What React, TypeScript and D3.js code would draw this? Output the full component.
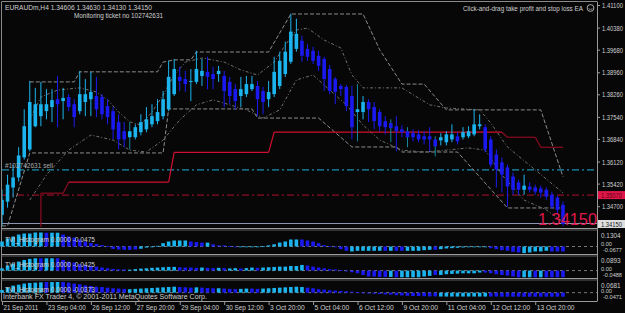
import React from "react";
import * as d3 from "d3";

// ---------- DATA ----------
const opens = [1.3444,1.3486,1.3531,1.3563,1.3627,1.3652,1.3726,1.3758,1.3774,1.3787,
1.3812,1.3806,1.3819,1.3796,1.3774,1.3803,1.3812,1.3822,1.3819,1.3790,
1.3774,1.3739,1.3710,1.3691,1.3691,1.3707,1.3716,1.3732,1.3742,1.3758,
1.3780,1.3828,1.3883,1.3876,1.3867,1.3867,1.3886,1.3899,1.3892,1.3892,
1.3886,1.3867,1.3844,1.3822,1.3828,1.3844,1.3854,1.3838,1.3812,1.3828,
1.3854,1.3892,1.3931,1.3972,1.3998,1.3972,1.3966,1.3950,1.3940,1.3908,
1.3876,1.3854,1.3851,1.3822,1.3771,1.3771,1.3803,1.3787,1.3771,1.3742,
1.3736,1.3726,1.3716,1.3710,1.3704,1.3700,1.3694,1.3694,1.3684,1.3681,
1.3675,1.3684,1.3694,1.3691,1.3694,1.3700,1.3726,1.3723,1.3684,1.3636,
1.3611,1.3595,1.3566,1.3547,1.3524,1.3534,1.3531,1.3528,1.3524,1.3508,
1.3499,1.3476];
const highs = [1.3524,1.3572,1.3604,1.3659,1.3780,1.3870,1.3848,1.3867,1.3844,1.3844,
1.3886,1.3848,1.3828,1.3812,1.3902,1.3876,1.3899,1.3883,1.3828,1.3812,
1.3787,1.3764,1.3739,1.3739,1.3732,1.3764,1.3787,1.3796,1.3812,1.3838,
1.3934,1.3940,1.3915,1.3902,1.3908,1.3966,1.3940,1.3947,1.3915,1.3918,
1.3902,1.3883,1.3860,1.3883,1.3886,1.3886,1.3870,1.3851,1.3870,1.3947,
1.3963,1.3995,1.4084,1.4068,1.4014,1.3988,1.3979,1.3966,1.3947,1.3921,
1.3883,1.3860,1.3857,1.3854,1.3860,1.3822,1.3812,1.3803,1.3780,1.3758,
1.3748,1.3758,1.3729,1.3723,1.3716,1.3713,1.3710,1.3723,1.3694,1.3704,
1.3710,1.3732,1.3707,1.3723,1.3726,1.3780,1.3764,1.3732,1.3694,1.3652,
1.3627,1.3604,1.3579,1.3556,1.3572,1.3547,1.3540,1.3537,1.3531,1.3518,
1.3505,1.3486];
const lows = [1.3409,1.3467,1.3499,1.3550,1.3620,1.3646,1.3723,1.3726,1.3748,1.3739,
1.3723,1.3748,1.3774,1.3723,1.3764,1.3758,1.3758,1.3755,1.3748,1.3732,
1.3684,1.3652,1.3659,1.3652,1.3684,1.3697,1.3707,1.3723,1.3732,1.3748,
1.3774,1.3822,1.3838,1.3835,1.3806,1.3860,1.3854,1.3844,1.3844,1.3867,
1.3787,1.3796,1.3780,1.3787,1.3819,1.3838,1.3758,1.3764,1.3787,1.3819,
1.3844,1.3883,1.3924,1.3963,1.3931,1.3934,1.3924,1.3902,1.3838,1.3828,
1.3796,1.3822,1.3774,1.3684,1.3678,1.3748,1.3739,1.3716,1.3710,1.3700,
1.3675,1.3646,1.3691,1.3659,1.3678,1.3675,1.3668,1.3646,1.3630,1.3665,
1.3665,1.3675,1.3668,1.3684,1.3688,1.3694,1.3716,1.3643,1.3595,1.3531,
1.3515,1.3470,1.3508,1.3508,1.3508,1.3515,1.3508,1.3499,1.3492,1.3464,
1.3448,1.3409];
const closes = [1.3492,1.3540,1.3563,1.3633,1.3726,1.3803,1.3796,1.3796,1.3796,1.3809,
1.3796,1.3816,1.3787,1.3755,1.3828,1.3828,1.3835,1.3780,1.3764,1.3755,
1.3716,1.3684,1.3684,1.3710,1.3723,1.3739,1.3748,1.3758,1.3771,1.3812,
1.3883,1.3908,1.3870,1.3860,1.3870,1.3908,1.3902,1.3883,1.3876,1.3902,
1.3838,1.3822,1.3806,1.3844,1.3860,1.3860,1.3812,1.3803,1.3835,1.3899,
1.3934,1.3963,1.4027,1.4020,1.3950,1.3947,1.3934,1.3918,1.3876,1.3838,
1.3835,1.3844,1.3790,1.3723,1.3780,1.3803,1.3780,1.3742,1.3726,1.3723,
1.3720,1.3710,1.3707,1.3691,1.3691,1.3684,1.3684,1.3684,1.3662,1.3691,
1.3700,1.3700,1.3678,1.3707,1.3710,1.3732,1.3732,1.3652,1.3604,1.3588,
1.3572,1.3534,1.3524,1.3524,1.3537,1.3524,1.3518,1.3515,1.3502,1.3470,
1.3460,1.3415];
const tealWicks = [23, 64, 70, 73, 78];

const priceTicks = [1.411, 1.4038, 1.3968, 1.3896, 1.3826, 1.3754, 1.3684, 1.3612, 1.3542, 1.347];
const timeLabels = ["21 Sep 2011","23 Sep 04:00","26 Sep 12:00","27 Sep 20:00","29 Sep 04:00","30 Sep 12:00","3 Oct 20:00","5 Oct 04:00","6 Oct 12:00","9 Oct 20:00","11 Oct 04:00","12 Oct 12:00","13 Oct 20:00"];
const timeLabelBars = [0,8,16,24,32,40,48,56,64,72,80,88,96];

// channel lines (bar index, price)
const upperStepIdx = [5,13,14,28,29,31,34,35,48,52,65,68,72,76,80,97,101];
const upperStepVal = [1.3867,1.3867,1.3899,1.3899,1.3930,1.3937,1.3937,1.3962,1.3962,1.4083,1.4083,1.3969,1.3860,1.3860,1.3778,1.3778,1.3565];
const lowerStepIdx = [0,1,5,29,30,45,46,57,63,71,72,82,91,101];
const lowerStepVal = [1.3409,1.3409,1.3641,1.3641,1.3781,1.3781,1.3752,1.3752,1.3660,1.3660,1.3644,1.3644,1.3466,1.3466];
const upperBandIdx = [5,7,10,14,17,19,21,23,25,27,29,31,33,36,40,43,46,49,51,53,55,58,61,63,65,72,77,80,86,88,91,96,101];
const upperBandVal = [1.3746,1.3819,1.3841,1.3848,1.3835,1.3810,1.3771,1.3740,1.3730,1.3771,1.3825,1.3889,1.3930,1.3943,1.3930,1.3905,1.3889,1.3930,1.3984,1.4032,1.4038,1.4000,1.3975,1.3889,1.3848,1.3848,1.3794,1.3784,1.3778,1.3736,1.3660,1.3587,1.3514];
const lowerBandIdx = [5,8,12,16,20,23,26,29,32,35,38,41,44,47,50,53,56,59,62,65,68,72,76,80,84,87,90,94,98,101];
const lowerBandVal = [1.3491,1.3571,1.3650,1.3698,1.3682,1.3650,1.3644,1.3682,1.3746,1.3794,1.3810,1.3794,1.3778,1.3752,1.3778,1.3873,1.3889,1.3841,1.3794,1.3730,1.3682,1.3650,1.3644,1.3650,1.3657,1.3650,1.3571,1.3491,1.3460,1.3422];

// trailing stop (red step line)
const stopIdx = [7,7,11,12,30,31,48,49,90,91,96,97,101];
const stopVal = [1.3405,1.3513,1.3513,1.3548,1.3548,1.3643,1.3643,1.3707,1.3707,1.3691,1.3691,1.3659,1.3659];

const sellLevel = 1.3587;
const stopLevel = 1.3507;
const bidPrice = 1.3415;

// TVI histograms
const tvi1 = [0.045,0.072,0.09,0.108,0.117,0.117,0.126,0.126,0.124,0.124,
0.124,0.108,0.09,0.08,0.063,0.045,0.032,0.022,0.013,0.003,
-0.022,-0.027,-0.03,-0.03,-0.027,-0.02,-0.01,-0.005,0.006,0.03,
0.045,0.054,0.054,0.054,0.045,0.04,0.035,0.035,0.02,0.01,
0.01,0.003,-0.005,-0.006,-0.004,-0.003,-0.002,0.002,0.01,0.02,
0.035,0.045,0.063,0.063,0.063,0.054,0.045,0.03,0.012,0.004,
0.0,-0.024,-0.039,-0.045,-0.039,-0.039,-0.039,-0.039,-0.039,-0.039,
-0.039,-0.039,-0.039,-0.039,-0.039,-0.039,-0.033,-0.03,-0.03,-0.024,
-0.018,-0.015,-0.012,-0.009,-0.006,-0.003,0.0,-0.003,-0.015,-0.024,
-0.033,-0.039,-0.048,-0.054,-0.06,-0.054,-0.045,-0.045,-0.039,-0.045,-0.045,-0.045];
const tvi1Col = "LLLLLLLLBL" + "LBBBBBBBBB" + "BBBBBLLLLL" + "LLLLBBBLBB" + "BBBLLLLLLL" + "LLLLBBBBBB" + "BBBLLLLLLB" + "LBBLLLLLBL" + "LLLLLLLLBB" + "BBBBLLLLLBBB";
const tvi2 = [0.015,0.033,0.046,0.059,0.07,0.077,0.081,0.081,0.081,0.081,
0.081,0.07,0.059,0.053,0.042,0.037,0.031,0.026,0.02,0.015,
0.011,0.008,0.008,0.006,0.01,0.013,0.015,0.018,0.02,0.022,
0.024,0.024,0.022,0.02,0.02,0.018,0.02,0.018,0.016,0.018,
0.016,0.014,0.016,0.014,0.016,0.02,0.018,0.02,0.022,0.024,
0.026,0.026,0.03,0.03,0.037,0.033,0.026,0.02,0.015,0.01,
0.008,0.004,-0.002,-0.011,-0.018,-0.029,-0.039,-0.039,-0.042,-0.042,
-0.042,-0.044,-0.044,-0.044,-0.044,-0.044,-0.039,-0.035,-0.029,-0.029,
-0.024,-0.022,-0.02,-0.018,-0.018,-0.018,-0.013,-0.013,-0.018,-0.024,
-0.029,-0.033,-0.039,-0.044,-0.044,-0.044,-0.044,-0.044,-0.044,-0.044,-0.044,-0.044];
const tvi2Col = "LLLLLLLBLL" + "BBBBBBBBBB" + "BBBLLLLLLL" + "LLBBBBLBBL" + "BLLBLLBLLL" + "LLLLLBBBBB" + "BBBBBBBBBB" + "LBLLLLLLBL" + "LLLLLLLBBB" + "BBBBLLBLBBBB";
const tvi3 = [0.017,0.032,0.045,0.051,0.058,0.062,0.064,0.066,0.068,0.068,
0.068,0.068,0.064,0.058,0.054,0.047,0.043,0.038,0.036,0.032,
0.028,0.026,0.024,0.022,0.024,0.026,0.028,0.03,0.032,0.034,
0.036,0.038,0.036,0.034,0.032,0.034,0.032,0.03,0.028,0.028,
0.026,0.024,0.022,0.024,0.026,0.026,0.024,0.026,0.028,0.03,
0.032,0.034,0.036,0.038,0.036,0.032,0.028,0.022,0.019,0.015,
0.013,0.011,0.009,0.006,0.004,0.001,-0.004,-0.007,-0.009,-0.011,
-0.013,-0.016,-0.018,-0.02,-0.022,-0.022,-0.023,-0.024,-0.024,-0.025,
-0.025,-0.025,-0.025,-0.025,-0.025,-0.025,-0.025,-0.025,-0.025,-0.025,
-0.026,-0.026,-0.026,-0.026,-0.026,-0.026,-0.026,-0.026,-0.026,-0.026,-0.026,-0.026];
const tvi3Col = "LLLLLLLLBL" + "LBBBBBBBBB" + "BBBLLLLLLL" + "LLBBBLBBBL" + "BBBLLBBLLL" + "LLLLLBBBBB" + "BBBBBBBBBB" + "BBBBBBBBBL" + "LLLLLLLLBB" + "BBBBBBBBBBBB";

const tviLabels = ["TVI_Histogram 0.0000 -0.0475", "TVI_Histogram 0.0000 -0.0425", "TVI_Histogram 0.0000 -0.0373"];
const tviMax = [0.1304, 0.0893, 0.0681];
const tviMin = [-0.0677, -0.0488, -0.0471];

// ---------- STYLE ----------
const BULL = "#1cb4ee";
const BEAR = "#1a1af0";
const TEAL = "#13889a";
const TXT = "#cfcfcf";
const FONT = "'Liberation Sans', Arial, sans-serif";

export default function App() {
  const x = d3.scaleLinear().domain([0, 101]).range([2, 563]);
  const y = d3.scaleLinear().domain([bidPrice, 1.411]).range([224, 5.5]);

  const line = d3.line<[number, number]>().x(d => x(d[0])).y(d => y(d[1]));
  const mk = (idx: number[], val: number[]) => line(idx.map((v, k) => [v, val[k]]) as [number, number][]) || "";

  const panes = [
    { data: tvi1, col: tvi1Col, top: 232, bot: 254 },
    { data: tvi2, col: tvi2Col, top: 257, bot: 278 },
    { data: tvi3, col: tvi3Col, top: 282, bot: 300 },
  ];

  const stopSegs: { a: number; b: number; c: string }[] = [];
  for (let k = 0; k < stopIdx.length - 1; k++) {
    const a = stopIdx[k];
    const dark = a < 12 || a >= 90;
    stopSegs.push({ a: k, b: k + 1, c: dark ? "#8e0c22" : "#d0102e" });
  }

  return (
    <svg width={625} height={313} style={{ position: "absolute", left: 0, top: 0, background: "#070707" }}
      fontFamily={FONT}>
      <defs>
        <clipPath id="main"><rect x={2} y={2} width={595} height={225} /></clipPath>
      </defs>
      <rect x={0} y={0} width={625} height={313} fill="#070707" />

      <g clipPath="url(#main)">
        {/* horizontal levels */}
        <line x1={2} x2={597} y1={y(sellLevel)} y2={y(sellLevel)} stroke="#1b8fae" strokeWidth={1.2} strokeDasharray="7,3,2,3" />
        <line x1={2} x2={597} y1={y(stopLevel)} y2={y(stopLevel)} stroke="#b0102e" strokeWidth={1} strokeDasharray="7,3,2,3" />
        <line x1={2} x2={597} y1={y(bidPrice) - 0.5} y2={y(bidPrice) - 0.5} stroke="#8b95b3" strokeWidth={1} />

        {/* channel lines */}
        <path d={mk(upperStepIdx, upperStepVal)} fill="none" stroke="#8c8c8c" strokeWidth={1} strokeDasharray="4,2" />
        <path d={mk(lowerStepIdx, lowerStepVal)} fill="none" stroke="#8c8c8c" strokeWidth={1} strokeDasharray="4,2" />
        <path d={mk(upperBandIdx, upperBandVal)} fill="none" stroke="#707070" strokeWidth={1} strokeDasharray="3,2,1,2" />
        <path d={mk(lowerBandIdx, lowerBandVal)} fill="none" stroke="#707070" strokeWidth={1} strokeDasharray="3,2,1,2" />

        {/* red trailing stop */}
        {stopSegs.map((s, k) => (
          <line key={k} x1={x(stopIdx[s.a])} y1={y(stopVal[s.a])} x2={x(stopIdx[s.b])} y2={y(stopVal[s.b])}
            stroke={s.c} strokeWidth={1.2} />
        ))}

        {/* candles */}
        {closes.map((c, i) => {
          const o = opens[i];
          const bull = c >= o;
          const col = bull ? BULL : BEAR;
          const wick = tealWicks.includes(i) ? TEAL : col;
          const top = y(Math.max(o, c));
          const h = Math.max(1, Math.abs(y(o) - y(c)));
          return (
            <g key={i}>
              <line x1={x(i)} x2={x(i)} y1={y(highs[i])} y2={y(lows[i])} stroke={wick} strokeWidth={1} />
              <rect x={x(i) - 1.8} y={top} width={3.6} height={h} fill={col} />
            </g>
          );
        })}
      </g>

      {/* texts in main pane */}
      <text x={5} y={10} fontSize={7} fill={TXT} textLength={147} lengthAdjust="spacingAndGlyphs">EURAUDm,H4  1.34606 1.34630 1.34130 1.34150</text>
      <text x={74} y={17.5} fontSize={7} fill={TXT} textLength={89} lengthAdjust="spacingAndGlyphs">Monitoring ticket no 102742631</text>
      <text x={463} y={10.5} fontSize={7} fill={TXT} textLength={120} lengthAdjust="spacingAndGlyphs">Click-and-drag take profit and stop loss EA</text>
      <circle cx={590.5} cy={8} r={3.4} fill="none" stroke="#bdbdbd" strokeWidth={0.9} />
      <path d="M588.6,8.6 Q590.5,10.6 592.4,8.6" fill="none" stroke="#bdbdbd" strokeWidth={0.7} />
      <text x={5} y={167.5} fontSize={7} fill="#a8a8a8" textLength={48} lengthAdjust="spacingAndGlyphs">#102742631 sell</text>
      <text x={538} y={225} fontSize={17} fill="#e0184c" textLength={59} lengthAdjust="spacingAndGlyphs">1.34150</text>

      {/* price axis */}
      <line x1={597.5} x2={597.5} y1={2} y2={301} stroke="#9a9a9a" />
      {priceTicks.map((p, k) => (
        <g key={k}>
          <line x1={597} x2={600} y1={y(p)} y2={y(p)} stroke="#9a9a9a" />
          <text x={602} y={y(p) + 2.5} fontSize={6.6} fill={TXT} textLength={21} lengthAdjust="spacingAndGlyphs">{p.toFixed(5)}</text>
        </g>
      ))}
      <rect x={598} y={y(stopLevel) - 4} width={27} height={8} fill="#e0154a" />
      <text x={601} y={y(stopLevel) + 2.6} fontSize={6.6} fill="#5a0010" textLength={21} lengthAdjust="spacingAndGlyphs">{stopLevel.toFixed(5)}</text>
      <rect x={598} y={y(bidPrice) - 4} width={27} height={8} fill="#dedede" />
      <text x={601} y={y(bidPrice) + 2.6} fontSize={6.6} fill="#202020" textLength={21} lengthAdjust="spacingAndGlyphs">{bidPrice.toFixed(5)}</text>

      {/* frame */}
      <line x1={1.5} x2={1.5} y1={2} y2={301} stroke="#8a8a8a" />
      <line x1={1.5} x2={597.5} y1={1.5} y2={1.5} stroke="#8a8a8a" />
      {[228.5, 254.5, 278.5].map((yy, k) => (
        <g key={k}>
          <line x1={1.5} x2={597.5} y1={yy} y2={yy} stroke="#9c9c9c" />
          <line x1={1.5} x2={597.5} y1={yy + 1.5} y2={yy + 1.5} stroke="#5e5e5e" />
        </g>
      ))}
      <line x1={1.5} x2={597.5} y1={301.5} y2={301.5} stroke="#9c9c9c" />

      {/* TVI panes */}
      {panes.map((p, k) => {
        const s = d3.scaleLinear().domain([tviMin[k], tviMax[k]]).range([p.bot, p.top]);
        const z = s(0);
        return (
          <g key={k}>
            <line x1={2} x2={597} y1={z} y2={z} stroke="#7a7a7a" strokeDasharray="3,3" />
            {p.data.map((v, i) => (
              <rect key={i} x={x(i) - 1.8} width={3.6} y={Math.min(s(v), z)} height={Math.max(0.8, Math.abs(s(v) - z))}
                fill={p.col[i] === "L" ? BULL : BEAR} />
            ))}
            <text x={5} y={p.top + 9.5} fontSize={7} fill={TXT} textLength={90} lengthAdjust="spacingAndGlyphs">{tviLabels[k]}</text>
            <text x={601} y={p.top + 5.5} fontSize={6.4} fill={TXT}>{tviMax[k].toFixed(4)}</text>
            <text x={601} y={z} fontSize={5.6} fill={TXT}>0.00</text>
            <text x={603} y={z + 6} fontSize={5.6} fill={TXT}>{tviMin[k].toFixed(4)}</text>
          </g>
        );
      })}
      <text x={3} y={298.5} fontSize={7} fill={TXT} textLength={204} lengthAdjust="spacingAndGlyphs">Interbank FX Trader 4, © 2001-2011 MetaQuotes Software Corp.</text>

      {/* time axis */}
      {timeLabels.map((t, k) => (
        <g key={k}>
          <line x1={x(timeLabelBars[k]) + 0.5} x2={x(timeLabelBars[k]) + 0.5} y1={301} y2={305} stroke="#9a9a9a" />
          <text x={x(timeLabelBars[k]) + 1.5} y={309.5} fontSize={7} fill={TXT}
            textLength={t.length * 3.15} lengthAdjust="spacingAndGlyphs">{t}</text>
        </g>
      ))}
    </svg>
  );
}
